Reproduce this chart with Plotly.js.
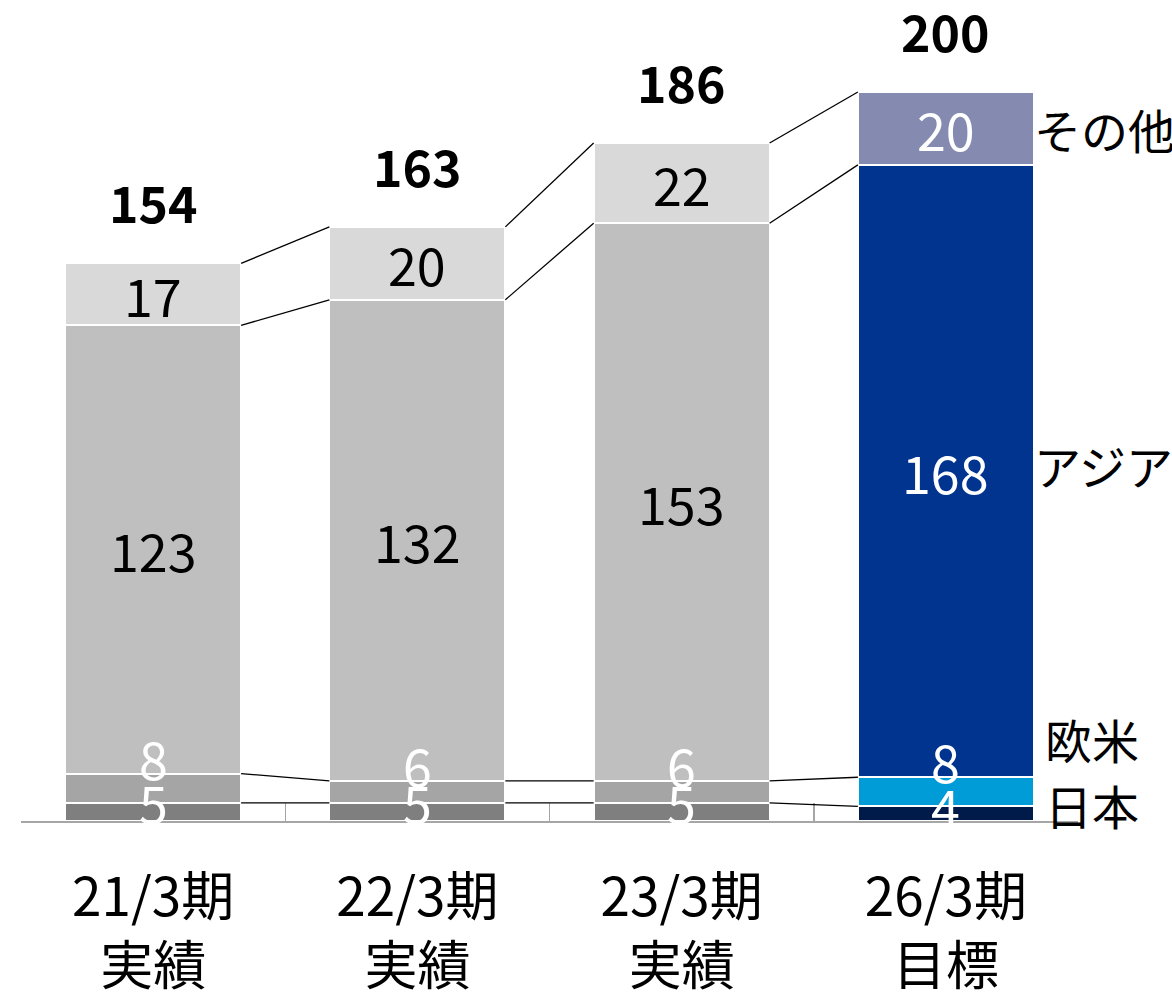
<!DOCTYPE html>
<html>
<head>
<meta charset="utf-8">
<script src="https://cdn.plot.ly/plotly-3.0.1.min.js"></script>
<style>html,body{margin:0;padding:0;background:#fff;}</style>
</head>
<body>
<div id="chart" style="width:1172px;height:995px;"></div>
<script>
// ---- data ----
var categories = ["21/3期<br>実績", "22/3期<br>実績", "23/3期<br>実績", "26/3期<br>目標"];
var seriesNames = ["日本", "欧米", "アジア", "その他"];
var japan  = [5, 5, 5, 4];
var westEU = [8, 6, 6, 8];
var asia   = [123, 132, 153, 168];
var other  = [17, 20, 22, 20];
var totals = [154, 163, 186, 200];

// ---- styles ----
var FONT = '"Noto Sans CJK JP", "Noto Sans", sans-serif';
var grayColors = ["#7f7f7f", "#a5a5a5", "#bfbfbf", "#d9d9d9"];
var blueColors = ["#001a4a", "#009cd8", "#00348e", "#858bb0"];
var grayText = ["#ffffff", "#ffffff", "#000000", "#000000"];
var blueText = ["#ffffff", "#ffffff", "#ffffff", "#ffffff"];
var bargap = 0.334;
var hw = (1 - bargap) / 2;

var series = [japan, westEU, asia, other];
var n = categories.length;

var traces = series.map(function (vals, s) {
  return {
    type: "bar",
    name: seriesNames[s],
    x: categories,
    y: vals,
    marker: {
      color: vals.map(function (v, i) { return i === n - 1 ? blueColors[s] : grayColors[s]; }),
      line: { color: "#ffffff", width: 2 }
    },
    hoverinfo: "skip"
  };
});

// cumulative tops
var cum = [];
for (var i = 0; i < n; i++) {
  var c = [], acc = 0;
  for (var s = 0; s < series.length; s++) { acc += series[s][i]; c.push(acc); }
  cum.push(c);
}

var annotations = [];
var labelSize = 52;
for (var i = 0; i < n; i++) {
  for (var s = 0; s < series.length; s++) {
    var v = series[s][i];
    var base = s === 0 ? 0 : cum[i][s - 1];
    var yc;
    if (s === 0) yc = cum[i][0] + 0.3;
    else if (s === 1) yc = cum[i][1] + 4.5;
    else yc = base + v / 2;
    annotations.push({
      xref: "x", yref: "y", x: i, y: yc,
      text: String(v), showarrow: false, yanchor: "middle", xanchor: "center",
      font: { family: FONT, size: labelSize, color: (i === n - 1 ? blueText[s] : grayText[s]) }
    });
  }
  annotations.push({
    xref: "x", yref: "y", x: i, y: cum[i][series.length - 1], yshift: 62,
    text: "<b>" + totals[i] + "</b>", showarrow: false, yanchor: "middle",
    font: { family: FONT, size: 50, color: "#000000" }
  });
}

// right-side series labels next to the last bar
var last = n - 1;
var rightY = [cum[last][0] + 0.6, cum[last][1] + 10.6, cum[last][1] + asia[last] / 2 + 1.7, cum[last][2] + other[last] / 2];
var rightShift = [9, 9, -2, -2];
for (var s = 0; s < series.length; s++) {
  annotations.push({
    xref: "x", yref: "y", x: last + hw, y: rightY[s], xshift: rightShift[s],
    text: seriesNames[s], showarrow: false, xanchor: "left", yanchor: "middle",
    font: { family: FONT, size: 47, color: "#000000" }
  });
}

// connector lines between bars
var shapes = [];
for (var i = 0; i < n - 1; i++) {
  for (var s = 0; s < series.length; s++) {
    shapes.push({
      type: "line", xref: "x", yref: "y",
      x0: i + hw, x1: i + 1 - hw, y0: cum[i][s], y1: cum[i + 1][s],
      line: { color: "#000000", width: 1.3 }
    });
  }
}

var layout = {
  width: 1172, height: 995,
  margin: { l: 21, r: 94, t: 10, b: 174 },
  barmode: "stack",
  bargap: bargap,
  showlegend: false,
  paper_bgcolor: "#ffffff",
  plot_bgcolor: "#ffffff",
  xaxis: {
    type: "category",
    range: [-0.5, n - 0.5], autorange: false,
    showline: true, linecolor: "#a6a6a6", linewidth: 1.5,
    ticks: "inside", tickson: "boundaries", ticklen: 18, tickcolor: "#a6a6a6", tickwidth: 1.5,
    ticklabelstandoff: 30,
    tickfont: { family: FONT, size: 53, color: "#000000" },
    showgrid: false, zeroline: false, fixedrange: true
  },
  yaxis: {
    range: [0, 222.5], autorange: false, visible: false, showgrid: false, zeroline: false, fixedrange: true
  },
  annotations: annotations,
  shapes: shapes
};

Plotly.newPlot("chart", traces, layout, { displayModeBar: false, staticPlot: true });
</script>
</body>
</html>
